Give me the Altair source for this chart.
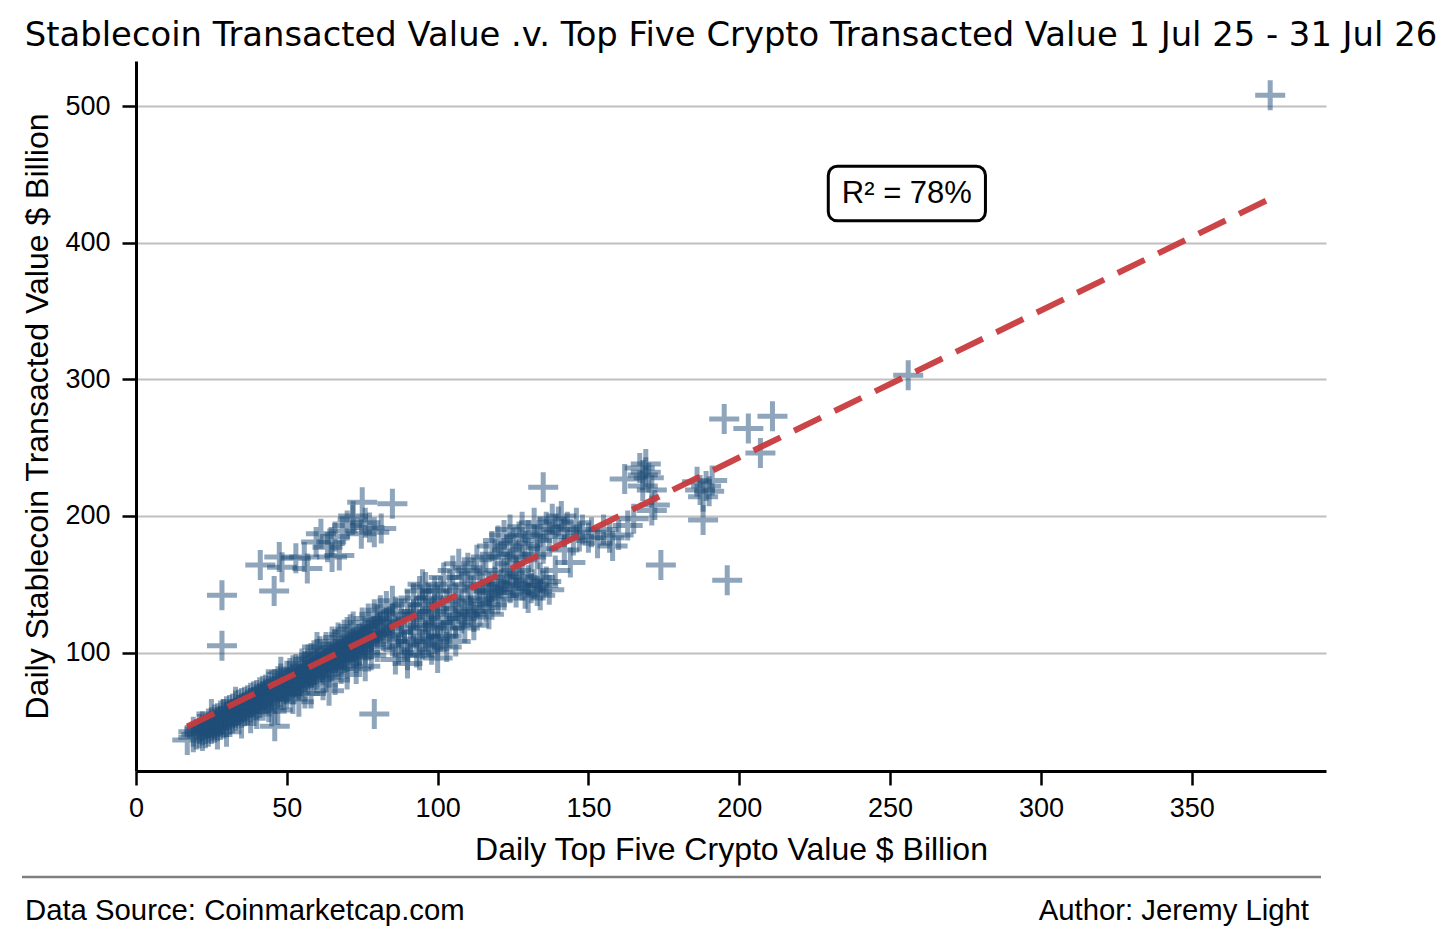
import pandas as pd
import altair as alt

# Daily values ($ billion): (top five crypto, stablecoin)
band_low = [
    (17, 36), (19, 38), (19, 42), (20, 40), (21, 44), (21, 41), (22, 43), (22, 39),
    (22, 46), (23, 44), (23, 41), (24, 45), (24, 48), (24, 42), (25, 46), (25, 44),
    (25, 49), (26, 47), (26, 51), (26, 45), (27, 49), (27, 46), (27, 52), (28, 50),
    (28, 47), (28, 54), (29, 51), (29, 48), (29, 55), (30, 53), (30, 49), (30, 57),
    (31, 54), (31, 51), (31, 58), (32, 55), (32, 59), (32, 52), (33, 56), (33, 61),
    (33, 54), (34, 58), (34, 55), (34, 62), (35, 59), (35, 56), (35, 63), (36, 60),
    (36, 64), (36, 57), (37, 61), (37, 65), (37, 58), (38, 63), (38, 60), (38, 67),
    (39, 64), (39, 61), (39, 68), (40, 65), (40, 62), (40, 69), (41, 66), (41, 71),
    (41, 63), (42, 68), (42, 65), (42, 72), (43, 69), (43, 66), (43, 73), (44, 70),
    (44, 67), (44, 75), (45, 71), (45, 68), (45, 76), (46, 46), (47, 58), (45, 57),
    (25, 55), (30, 42), (35, 48), (40, 55), (44, 60), (38, 52), (33, 64), (27, 40),
]
band_mid = [
    (46, 72), (46, 77), (46, 66), (47, 73), (47, 70), (47, 79), (48, 75), (48, 71),
    (48, 81), (49, 76), (49, 73), (49, 69), (50, 78), (50, 74), (50, 83), (50, 70),
    (51, 79), (51, 76), (51, 85), (52, 80), (52, 77), (52, 87), (52, 73), (53, 82),
    (53, 78), (53, 88), (54, 83), (54, 80), (54, 76), (54, 64), (55, 85), (55, 81),
    (55, 92), (55, 78), (56, 86), (56, 83), (56, 90), (57, 88), (57, 84), (57, 80),
    (57, 95), (58, 89), (58, 86), (58, 96), (58, 70), (59, 90), (59, 87), (59, 83),
    (59, 98), (60, 92), (60, 88), (60, 99), (60, 84), (61, 93), (61, 89), (61, 101),
    (62, 94), (62, 91), (62, 87), (62, 76), (63, 95), (63, 92), (63, 104), (64, 97),
    (64, 93), (64, 89), (64, 72), (65, 98), (65, 95), (65, 108), (65, 90), (66, 99),
    (66, 96), (66, 80), (67, 101), (67, 97), (67, 111), (67, 94), (68, 102), (68, 99),
    (68, 95), (69, 103), (69, 100), (69, 113), (69, 96), (70, 105), (70, 101), (70, 84),
    (70, 115), (71, 106), (71, 102), (71, 117), (72, 107), (72, 104), (72, 100), (72, 119),
    (73, 109), (73, 105), (73, 88), (74, 110), (74, 106), (74, 102), (74, 97), (75, 111),
    (75, 108), (75, 122), (76, 112), (76, 109), (76, 90), (77, 114), (77, 110), (77, 125),
    (78, 115), (78, 112), (78, 106), (79, 116), (79, 55), (79, 128), (80, 118), (80, 114),
    (80, 104), (81, 119), (81, 131), (82, 120), (82, 112), (83, 122), (83, 134), (84, 123),
    (84, 113), (85, 125), (85, 138), (85, 108), (48, 86), (52, 66), (56, 70), (60, 104),
    (63, 82), (66, 106), (68, 88), (70, 92), (73, 96), (76, 100), (78, 98), (80, 124),
]
band_wide = [
    (86, 95), (87, 102), (88, 110), (88, 128), (89, 118), (90, 98), (90, 135), (91, 108),
    (91, 124), (92, 140), (92, 115), (93, 100), (93, 130), (94, 120), (94, 145), (95, 106),
    (95, 135), (96, 112), (96, 126), (96, 148), (97, 118), (97, 140), (98, 102), (98, 130),
    (99, 110), (99, 145), (100, 96), (100, 122), (100, 138), (86, 130), (87, 115), (89, 105),
    (90, 92), (92, 128), (94, 98), (95, 150), (97, 108), (98, 120), (99, 132), (100, 105),
    (101, 145), (101, 112), (102, 155), (102, 125), (103, 135), (103, 104), (104, 150),
    (104, 118), (105, 160), (105, 128), (106, 140), (106, 122), (107, 165), (107, 132),
    (108, 148), (108, 125), (109, 155), (109, 128), (110, 138), (110, 162), (111, 130),
    (111, 145), (112, 158), (112, 126), (113, 136), (113, 168), (114, 150), (114, 130),
    (115, 140), (115, 160), (116, 133), (116, 170), (117, 128), (118, 135), (103, 112),
    (106, 108), (109, 118), (112, 120),
]
upper_cluster = [
    (118, 178), (119, 172), (120, 182), (121, 170), (122, 186), (123, 175), (124, 190),
    (125, 180), (126, 172), (127, 185), (128, 192), (129, 178), (130, 186), (131, 170),
    (132, 195), (133, 182), (134, 188), (135, 176), (136, 192), (137, 185), (138, 198),
    (139, 190), (140, 196), (141, 200), (142, 188), (128, 168), (133, 172), (124, 165),
    (143, 192), (144, 166), (145, 182), (146, 195), (147, 185), (148, 190), (150, 184),
    (151, 188), (153, 180), (155, 190), (157, 184), (158, 178), (160, 186), (162, 227),
    (163, 193), (165, 198), (142, 175), (139, 160), (135, 221),
]
lower_cluster = [
    (117, 148), (118, 144), (119, 152), (120, 146), (121, 150), (122, 142), (123, 155),
    (124, 147), (125, 151), (126, 144), (127, 156), (128, 149), (129, 143), (130, 153),
    (131, 147), (132, 150), (133, 145), (134, 155), (135, 149), (136, 152), (137, 146),
    (122, 158), (126, 160), (130, 140), (134, 142), (120, 139), (117, 145),
]
high_days = [
    (167, 235), (168, 230), (169, 238), (170, 228), (169, 232), (171, 219), (171, 204),
    (172, 208), (168, 222), (174, 164), (186, 225), (187, 219), (188, 214), (189, 222),
    (190, 218), (191, 226), (188, 197), (195, 271), (196, 153), (203, 264), (207, 246),
    (211, 273), (256, 303), (376, 508),
]
off_band = [
    (28.5, 105), (28.5, 142), (45.8, 145), (41.2, 164), (47.5, 170), (48.4, 162.5),
    (53, 169), (55.8, 170), (56.8, 161.5), (59.7, 181), (61.3, 187), (63.5, 177),
    (64.7, 181), (65, 170), (67.4, 171), (68.4, 189), (71.8, 197), (74.7, 187), (75, 210),
    (77.4, 191.6), (81.3, 190.8), (85, 209), (66, 185), (70, 193), (72, 200), (76, 195),
    (79, 188),
]

# least squares fit
fit_slope = 1.076
fit_intercept = 27.6
fit_x = [17, 376]

r2_label = "R² = 78%"
r2_box = {"x": 229.5, "x2": 281.6, "y": 456, "y2": 416}

x_ticks = [0, 50, 100, 150, 200, 250, 300, 350]
y_ticks = [100, 200, 300, 400, 500]

title_text = "Stablecoin Transacted Value .v. Top Five Crypto Transacted Value 1 Jul 25 - 31 Jul 26"
source_text = "Data Source: Coinmarketcap.com"
author_text = "Author: Jeremy Light"

points = band_low + band_mid + band_wide + upper_cluster + lower_cluster + high_days + off_band
df = pd.DataFrame(points, columns=["crypto", "stable"])
fit_df = pd.DataFrame({"crypto": fit_x})
fit_df["stable"] = fit_intercept + fit_slope * fit_df["crypto"]

x_scale = alt.Scale(domain=[0, 394.5], nice=False, zero=False)
y_scale = alt.Scale(domain=[13.3, 533], nice=False, zero=False)

x_axis = alt.Axis(title="Daily Top Five Crypto Value $ Billion", values=x_ticks, grid=False,
                  labelPadding=10, titlePadding=13, labelFlush=False)
y_axis = alt.Axis(title="Daily Stablecoin Transacted Value $ Billion", values=y_ticks, grid=True,
                  gridColor="#c0c0c0", gridWidth=2, labelPadding=12, titlePadding=10,
                  labelFlush=False)

cross = "M-1,0H1M0,-1V1"

scatter = alt.Chart(df).mark_point(
    shape=cross, filled=False, size=900, strokeWidth=5, color="#1f4e79", opacity=0.5
).encode(
    x=alt.X("crypto:Q", scale=x_scale, axis=x_axis),
    y=alt.Y("stable:Q", scale=y_scale, axis=y_axis),
)

fit = alt.Chart(fit_df).mark_line(
    color="#c73a3e", strokeWidth=6, strokeDash=[30, 15], opacity=0.95
).encode(x="crypto:Q", y="stable:Q")

box = alt.Chart(pd.DataFrame([r2_box])).mark_rect(
    fill="white", stroke="black", strokeWidth=3, cornerRadius=9
).encode(x="x:Q", x2="x2:Q", y="y:Q", y2="y2:Q")

label = alt.Chart(pd.DataFrame({"t": [r2_label],
                                "x": [(r2_box["x"] + r2_box["x2"]) / 2],
                                "y": [(r2_box["y"] + r2_box["y2"]) / 2]})).mark_text(
    fontSize=31, color="black", baseline="middle", align="center"
).encode(x="x:Q", y="y:Q", text="t:N")

one_row = pd.DataFrame({"a": [0]})
title = alt.Chart(one_row).mark_text(
    text=title_text, font="DejaVu Sans", fontSize=33.8, align="center", baseline="alphabetic",
    color="black"
).encode(x=alt.value(595), y=alt.value(-15.5))
footer_line = alt.Chart(one_row).mark_rule(color="#7f7f7f", strokeWidth=2.5).encode(
    x=alt.value(-114), x2=alt.value(1185), y=alt.value(816)
)
source = alt.Chart(one_row).mark_text(
    text=source_text, fontSize=29.3, align="left", baseline="middle", color="black"
).encode(x=alt.value(-111), y=alt.value(850))
author = alt.Chart(one_row).mark_text(
    text=author_text, fontSize=29.3, align="right", baseline="middle", color="black"
).encode(x=alt.value(1173), y=alt.value(850))

chart = alt.layer(scatter, fit, box, label, title, footer_line, source, author).properties(
    width=1190, height=710,
    autosize=alt.AutoSizeParams(type="none"),
    padding={"left": 128, "top": 53, "right": 118, "bottom": 165},
).configure(
    font="Liberation Sans"
).configure_view(
    stroke=None
).configure_axis(
    labelFontSize=27, titleFontSize=32, labelColor="black", titleColor="black",
    titleFontWeight="normal", domainColor="black", domainWidth=3, tickColor="black",
    tickWidth=2.5, tickSize=14
)

chart.save("out.html", embed_options={"renderer": "svg", "actions": False})
